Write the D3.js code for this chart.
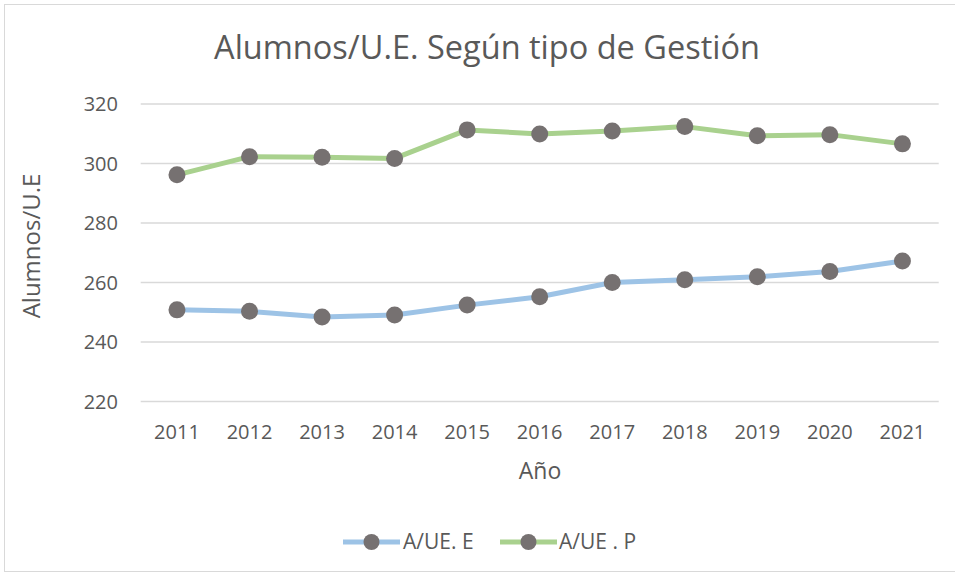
<!DOCTYPE html>
<html><head><meta charset="utf-8">
<script src="https://cdn.jsdelivr.net/npm/d3@7"></script>
<style>body{margin:0;background:#fff;} text{font-family:"Open Sans","Liberation Sans",sans-serif;fill:#595959;}</style>
</head><body>
<svg id="c" width="955" height="575"></svg>
<script>
const years = ["2011","2012","2013","2014","2015","2016","2017","2018","2019","2020","2021"];
const seriesE = [250.8,250.3,248.4,249.1,252.4,255.2,260.0,260.9,261.9,263.7,267.2];
const seriesP = [296.2,302.3,302.1,301.7,311.3,309.9,310.9,312.4,309.3,309.7,306.6];
const yTicks = [220,240,260,280,300,320];
const seriesNames = ["A/UE. E","A/UE . P"];
const colors = ["#9DC3E6","#A9D18E"];
const markerColor = "#767171";

const svg = d3.select("#c");
svg.append("rect").attr("x",4.5).attr("y",4.5).attr("width",960).attr("height",567)
  .attr("fill","#fff").attr("stroke","#d9d9d9");

const L=140.7, R=938.7, T=104, B=401.5;
const x = d3.scaleBand().domain(years).range([L,R]);
const y = d3.scaleLinear().domain([220,320]).range([B,T]);

svg.append("g").selectAll("line").data(yTicks).join("line")
  .attr("x1",L).attr("x2",R).attr("y1",d=>y(d)).attr("y2",d=>y(d))
  .attr("stroke","#d9d9d9").attr("stroke-width",1.5);

svg.append("g").selectAll("text").data(yTicks).join("text")
  .attr("x",118).attr("y",d=>y(d)).attr("dy","0.35em").attr("text-anchor","end")
  .attr("font-size",20).text(d=>d);

svg.append("g").selectAll("text").data(years).join("text")
  .attr("x",d=>x(d)+x.bandwidth()/2).attr("y",432).attr("dy","0.35em").attr("text-anchor","middle")
  .attr("font-size",20).text(d=>d);

svg.append("text").attr("x",487).attr("y",48).attr("dy","0.35em").attr("text-anchor","middle")
  .attr("font-size",32.5).text("Alumnos/U.E. Según tipo de Gestión");
svg.append("text").attr("x",540).attr("y",471).attr("dy","0.35em").attr("text-anchor","middle")
  .attr("font-size",23).text("Año");
svg.append("text").attr("transform","translate(32,246) rotate(-90)").attr("dy","0.35em").attr("text-anchor","middle")
  .attr("font-size",24).text("Alumnos/U.E");

const line = d3.line().x((d,i)=>x(years[i])+x.bandwidth()/2).y(d=>y(d));
[seriesE,seriesP].forEach((s,k)=>{
  svg.append("path").datum(s).attr("d",line).attr("fill","none")
    .attr("stroke",colors[k]).attr("stroke-width",5).attr("stroke-linejoin","round");
  svg.append("g").selectAll("circle").data(s).join("circle")
    .attr("cx",(d,i)=>x(years[i])+x.bandwidth()/2).attr("cy",d=>y(d)).attr("r",8.5)
    .attr("fill",markerColor);
});

// legend
const lg = [{x0:343,tx:403},{x0:500,tx:559}];
seriesNames.forEach((n,k)=>{
  const g = svg.append("g");
  g.append("line").attr("x1",lg[k].x0).attr("x2",lg[k].x0+57).attr("y1",542).attr("y2",542)
    .attr("stroke",colors[k]).attr("stroke-width",5);
  g.append("circle").attr("cx",lg[k].x0+28.5).attr("cy",542).attr("r",8).attr("fill",markerColor);
  g.append("text").attr("x",lg[k].tx).attr("y",542).attr("dy","0.35em").attr("font-size",21).text(n);
});
</script>
</body></html>
